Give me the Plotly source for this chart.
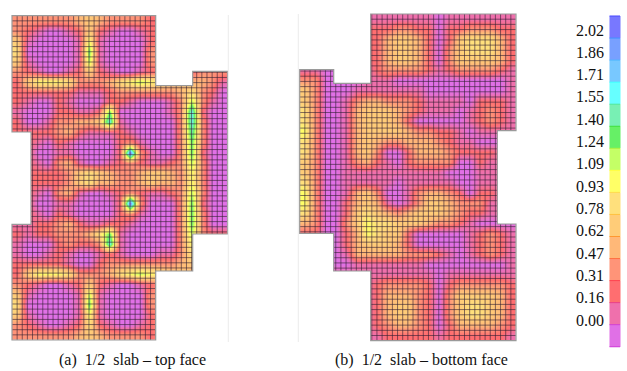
import plotly.graph_objects as go

# contour levels: one hex digit per sampled cell (0 = lowest band ... e = highest band)
TOP_FACE = [
 "33333345433332" "2223333",
 "32100125210012" "2223333",
 "51000017100002" "2223333",
 "60000019100003" "3333333",
 "51000018100003" "3332333",
 "32100125210012" "2222333",
 "25777633346787" "6554431",
 "22222211123333" "3346320",
 "21002100022100" "0138310",
 "10002211290000" "013b200",
 "200133445b1000" "003b300",
 "22223421112100" "003a300",
 "22102100002310" "0039300",
 "22001100002e31" "0039200",
 "22103410012321" "1238300",
 "22222356543345" "5437300",
 "22222356443345" "4437300",
 "22103410012321" "1238300",
 "22001100002e30" "0039200",
 "22102100002310" "0039300",
 "11223421122100" "0039300",
 "21223334691000" "0038322",
 "100023223b1000" "0037333",
 "10012100121000" "1136333",
 "22222100233333" "3345433",
 "25777633346787" "6554433",
 "32100125210012" "3333333",
 "51000018100003" "3333333",
 "60000019100003" "3333333",
 "51000017100002" "3333333",
 "32100126210012" "3333333",
 "33333345433332" "3333333",
]
BOTTOM_FACE = [
 "1111111" "11111101111111",
 "1111112" "22332202233322",
 "1111112" "24554202566642",
 "1111112" "24554203566642",
 "1100002" "24554203555542",
 "1100001" "23333212333321",
 "3300001" "11000000000001",
 "530001111111000000001",
 "530013443332111102221",
 "630014555432111012321",
 "630014555420000012321",
 "730014555543322101111",
 "630014543344432110000",
 "630014530024443222211",
 "530013421023333002111",
 "530011111111110001111",
 "630011111011111001111",
 "730014530013443202211",
 "730024541013554333111",
 "630025654345554322111",
 "430035766555433210000",
 "220024765520000012321",
 "220024555420000012321",
 "220014444433321012321",
 "111001111111000000001",
 "1111111" "11111101111111",
 "1111111" "23333202333332",
 "1111111" "24443203555542",
 "1111111" "24553203566542",
 "1111111" "24553203566542",
 "1111111" "23443202444432",
 "1111111" "12222212222221",
]
LEVEL_COLORS = ["#E070E6", "#EF70AC", "#FF6E70", "#FF9478", "#FFB878",
                "#FFCC78", "#FFE07C", "#FFFF66", "#C4FF66", "#66F066",
                "#78F0B4", "#66FFFF", "#78C8FF", "#78A0FF", "#7878FF"]
BAND_EDGE_COLORS = ["#D040D8", "#E8408C", "#FF4050", "#FF7040", "#FF9830",
                    "#FFC040", "#FFD850", "#FFFF40", "#A8F040", "#40E040",
                    "#50E8A0", "#40FFFF", "#50B8FF", "#4090FF", "#4848FF"]
TICK_LABELS = ["2.02", "1.86", "1.71", "1.55", "1.40", "1.24", "1.09",
               "0.93", "0.78", "0.62", "0.47", "0.31", "0.16", "0.00"]
CAPTIONS = ["(a)  1/2  slab – top face", "(b)  1/2  slab – bottom face"]

scale = [[i / 14, c] for i, c in enumerate(LEVEL_COLORS)]
def decode(rows):
    return [[int(ch, 16) for ch in r] for r in rows]

# slab outlines (pixel geometry)
A_BOX = (12.0, 227.5, 15.7, 340.0)
A_RECTS = [(12, 155.7, 15.7, 132), (12, 155.7, 224.3, 340),
           (31, 192.7, 85.7, 271), (192.7, 227.5, 71.3, 234)]
A_MASKS = [(155.7, 229, 14, 71.3), (155.7, 192.7, 70, 85.7),
           (155.7, 229, 271, 342), (192.7, 229, 234, 272), (10, 31, 132, 224.3),
           (227.5, 229, 14, 342)]
A_OUT = [(12, 15.7), (155.7, 15.7), (155.7, 85.7), (192.7, 85.7), (192.7, 71.3), (227.5, 71.3),
         (227.5, 234), (192.7, 234), (192.7, 271), (155.7, 271), (155.7, 340), (12, 340),
         (12, 224.3), (31, 224.3), (31, 132), (12, 132)]
B_BOX = (299.7, 516.0, 14.0, 340.7)
B_RECTS = [(370.7, 516, 14, 130.7), (299.7, 333.7, 69.7, 233.3),
           (333.7, 497.3, 83.3, 271), (370.7, 516, 224, 340.7)]
B_MASKS = [(298.5, 370.7, 12, 69.7), (333.7, 370.7, 68, 83.3), (298.5, 370.7, 271, 342),
           (298.5, 333.7, 233.3, 272), (497.3, 518, 130.7, 224)]
B_OUT = [(370.7, 14), (516, 14), (516, 130.7), (497.3, 130.7), (497.3, 224), (516, 224),
         (516, 340.7), (370.7, 340.7), (370.7, 271), (333.7, 271), (333.7, 233.3), (299.7, 233.3),
         (299.7, 69.7), (333.7, 69.7), (333.7, 83.3), (370.7, 83.3)]

def merged(spans):
    spans = sorted(spans)
    out = []
    for a, b in spans:
        if out and a <= out[-1][1]:
            out[-1][1] = max(out[-1][1], b)
        else:
            out.append([a, b])
    return out

def mesh(box, rects, ncols, nrows):
    x0, x1, y0, y1 = box
    dx, dy = (x1 - x0) / ncols, (y1 - y0) / nrows
    xs, ys = [], []
    for i in range(1, ncols):
        x = x0 + i * dx
        for a, b in merged([(r[2], r[3]) for r in rects if r[0] <= x <= r[1]]):
            xs += [x, x, None]; ys += [a, b, None]
    for j in range(1, nrows):
        y = y0 + j * dy
        for a, b in merged([(r[0], r[1]) for r in rects if r[2] <= y <= r[3]]):
            xs += [a, b, None]; ys += [y, y, None]
    return xs, ys

fig = go.Figure()
shapes = []
for rows, box, rects, masks, outline in [(TOP_FACE, A_BOX, A_RECTS, A_MASKS, A_OUT),
                                         (BOTTOM_FACE, B_BOX, B_RECTS, B_MASKS, B_OUT)]:
    nr, nc = len(rows), len(rows[0])
    dx, dy = (box[1] - box[0]) / nc, (box[3] - box[2]) / nr
    fig.add_trace(go.Heatmap(z=decode(rows), x0=box[0] + dx / 2, dx=dx, y0=box[2] + dy / 2, dy=dy,
                             zmin=0, zmax=14, colorscale=scale, zsmooth="best",
                             showscale=False, hoverinfo="skip"))
    mx, my = mesh(box, rects, 42, 63)
    fig.add_trace(go.Scatter(x=mx, y=my, mode="lines", hoverinfo="skip", showlegend=False,
                             line=dict(color="rgba(50,30,50,0.6)", width=1)))
    for m in masks:
        shapes.append(dict(type="rect", x0=m[0], x1=m[1], y0=m[2], y1=m[3], layer="above",
                           fillcolor="white", line=dict(width=0)))
    path = "M " + " L ".join(f"{x},{y}" for x, y in outline) + " Z"
    shapes.append(dict(type="path", path=path, layer="above", line=dict(color="#9a9a9a", width=1.2)))

# faint guide lines
for x, y0, y1 in [(228.3, 15, 342), (298.3, 14, 342)]:
    shapes.append(dict(type="line", x0=x, x1=x, y0=y0, y1=y1, layer="above",
                       line=dict(color="#ececec", width=1)))

# colour key
KEY_X0, KEY_X1, KEY_Y0, KEY_H = 609.5, 620.0, 16.0, 22.05
n = len(LEVEL_COLORS)
fig.add_trace(go.Heatmap(z=[[n - 1 - i] for i in range(n)], x0=(KEY_X0 + KEY_X1) / 2, dx=KEY_X1 - KEY_X0,
                         y0=KEY_Y0 + KEY_H / 2, dy=KEY_H, zmin=0, zmax=14, colorscale=scale,
                         showscale=False, hoverinfo="skip"))
for i in range(n):
    y = KEY_Y0 + i * KEY_H
    shapes.append(dict(type="line", x0=KEY_X0, x1=KEY_X1, y0=y, y1=y, layer="above",
                       line=dict(color=BAND_EDGE_COLORS[n - 1 - i], width=1)))
shapes.append(dict(type="line", x0=KEY_X0, x1=KEY_X1, y0=KEY_Y0 + n * KEY_H, y1=KEY_Y0 + n * KEY_H,
                   layer="above", line=dict(color=BAND_EDGE_COLORS[0], width=1)))

ann = []
for i, t in enumerate(TICK_LABELS):
    ann.append(dict(x=605.5, y=30 + i * 22.31, text=t, showarrow=False, xanchor="right", yanchor="middle",
                    font=dict(family="Liberation Serif", size=16, color="#111")))
for t, x in zip(CAPTIONS, [132.5, 421]):
    ann.append(dict(x=x, y=360, text=t, showarrow=False, xanchor="center", yanchor="middle",
                    font=dict(family="Liberation Serif", size=16, color="#111")))

fig.update_layout(width=627, height=371, margin=dict(l=0, r=0, t=0, b=0),
                  paper_bgcolor="white", plot_bgcolor="white", shapes=shapes, annotations=ann,
                  showlegend=False,
                  xaxis=dict(range=[0, 627], visible=False, fixedrange=True),
                  yaxis=dict(range=[371, 0], visible=False, fixedrange=True))
fig.write_html("out.html", config={"displayModeBar": False},
               post_script="document.body.style.margin='0';document.documentElement.style.overflow='hidden';")
